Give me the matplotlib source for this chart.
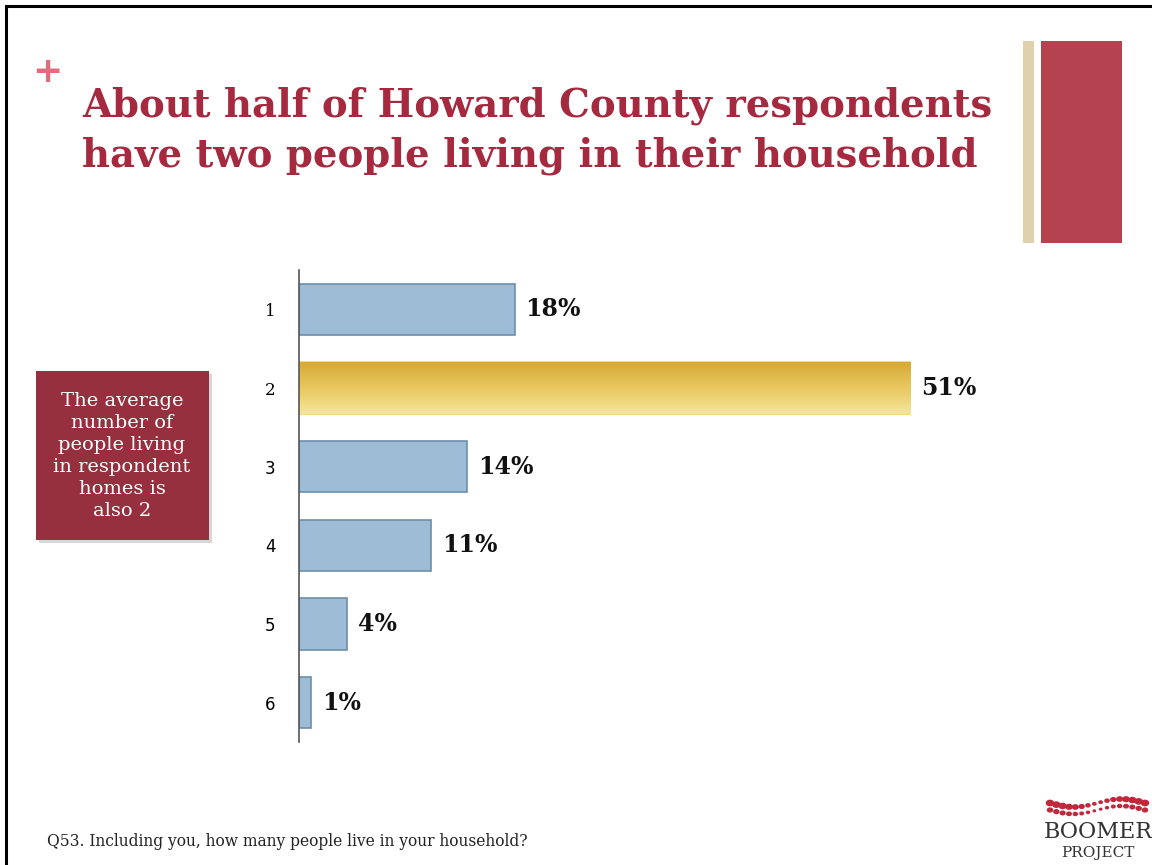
import numpy as np
import matplotlib.pyplot as plt
from matplotlib.patches import Rectangle
from matplotlib.lines import Line2D
from matplotlib.colors import LinearSegmentedColormap

categories = ["1", "2", "3", "4", "5", "6"]
values = [18, 51, 14, 11, 4, 1]
highlight = 1

title = "About half of Howard County respondents\nhave two people living in their household"
callout = "The average\nnumber of\npeople living\nin respondent\nhomes is\nalso 2"
footnote = "Q53. Including you, how many people live in your household?"

W, H = 1152, 865
fig = plt.figure(figsize=(W / 100, H / 100), dpi=100)
fig.patch.set_facecolor("white")

def fx(px):
    return px / W

def fy(py):
    return 1 - py / H

# slide border
fig.add_artist(Line2D([fx(6), fx(6)], [fy(6), 0], color="black", lw=2.2))
fig.add_artist(Line2D([fx(6), 1], [fy(6), fy(6)], color="black", lw=2.2))

# decoration at top right
fig.add_artist(Rectangle((fx(1023), fy(243)), fx(11), 202 / H, color="#DFD0AE", lw=0))
fig.add_artist(Rectangle((fx(1041), fy(243)), fx(81), 202 / H, color="#B5434F", lw=0))

# title
fig.text(fx(47), fy(72), "+", color="#E06C7E", fontsize=26, fontweight="bold",
         ha="center", va="center", family="DejaVu Sans")
fig.text(fx(82), fy(131), title, color="#A52A40", fontsize=27.8, fontweight="heavy",
         family="DejaVu Serif", ha="left", va="center", linespacing=1.38)

# callout box with shadow
fig.add_artist(Rectangle((fx(39), fy(543)), fx(173), 169 / H, color="#BBBBBB", lw=0, alpha=0.6))
fig.add_artist(Rectangle((fx(36), fy(540)), fx(173), 169 / H, color="#96303F", lw=0))
fig.text(fx(122), fy(456), callout, color="white", fontsize=14, family="DejaVu Serif",
         ha="center", va="center", linespacing=1.28)

# footnote
fig.text(fx(47), fy(842), footnote, color="#222222", fontsize=11.2, family="DejaVu Serif",
         ha="left", va="center")

# logo
for row, sz in enumerate([14, 10]):
    xs = np.linspace(1050, 1145, 16)
    ys = 803 + row * 7 + 4 * np.sin((xs - 1050) / 95 * 2 * np.pi)
    sizes = sz * (0.4 + 0.6 * np.abs(np.cos((xs - 1050) / 95 * np.pi)))
    for x, yy, s in zip(xs, ys, sizes):
        fig.add_artist(plt.Circle((fx(x), fy(yy)), s / 10000 * 2.2, color="#C0283C",
                                  transform=fig.transFigure))
fig.text(fx(1098), fy(832), "BOOMER", color="#333333", fontsize=16, family="DejaVu Serif",
         ha="center", va="center")
fig.text(fx(1098), fy(853), "PROJECT", color="#333333", fontsize=11, family="DejaVu Serif",
         ha="center", va="center")

# bar chart
ax = fig.add_axes([fx(299), fy(742), fx(723), 472 / H])
y = np.arange(len(categories))
bars = ax.barh(y, values, height=0.65, color="#9DBCD6", edgecolor="#6E8FAA", linewidth=1.2)

# gradient for highlighted bar
hb = bars[highlight]
hb.set_facecolor("none")
hb.set_edgecolor("#F0D27A")
x0, y0 = hb.get_x(), hb.get_y()
bw, bh = hb.get_width(), hb.get_height()
grad = np.linspace(0, 1, 100).reshape(-1, 1)
cmap = LinearSegmentedColormap.from_list("gold", ["#D6AA35", "#E8C860", "#F6E69A"])
ax.imshow(grad, extent=(x0, x0 + bw, y0 + bh, y0), cmap=cmap, aspect="auto", zorder=1.5,
          origin="upper")

for i, v in enumerate(values):
    ax.text(v + 0.9, i, f"{v}%", va="center", ha="left", fontsize=17, fontweight="bold",
            family="DejaVu Serif", color="#111111")

ax.set_xlim(0, 60.3)
ax.set_ylim(5.5, -0.5)
ax.set_yticks(y)
ax.set_yticklabels(categories)
for i, lab in enumerate(ax.get_yticklabels()):
    lab.set_family("DejaVu Serif" if i < 2 else "DejaVu Sans")
    lab.set_fontsize(12)
ax.tick_params(axis="y", length=0, pad=17)
ax.set_xticks([])
for s in ["top", "right", "bottom"]:
    ax.spines[s].set_visible(False)
ax.spines["left"].set_color("#555555")
ax.spines["left"].set_linewidth(1.2)
ax.set_facecolor("none")

fig.savefig("out.png", dpi=100)
